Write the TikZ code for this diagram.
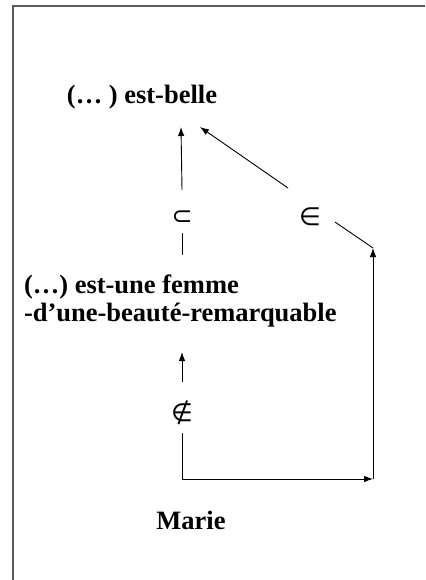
\documentclass[tikz,border=0pt]{standalone}
\usepackage{fontspec}
\setmainfont{Liberation Serif}
\newfontfamily\symfont{DejaVu Sans}
\usetikzlibrary{arrows.meta,calc}

\definecolor{fgray}{RGB}{90, 90, 90}

\tikzset{
	lbl/.style={font=\fontsize{26.5}{28}\selectfont\bfseries, inner sep=0pt, outer sep=0pt},
	rel/.style={font=\fontsize{25}{28}\selectfont\symfont, inner sep=0pt, outer sep=0pt},
	arr/.style={-{Latex[length=9pt,width=6.5pt]}, line width=0.9pt},
	ln/.style={line width=0.9pt}
}

\begin{document}
\begin{tikzpicture}[x=1pt, y=-1pt]
			\useasboundingbox (0,0) rectangle (425,580);

			% --- frame ---
			\draw[fgray, line width=1.3pt] (13,580) -- (13,6) -- (425,6);

			% --- labels ---
			\node[lbl] (belle) at (142,97) {(\ldots\ ) est-belle};
			\node[lbl, anchor=west, align=left] (femme) at (24,301) {(\ldots) est-une femme\\-d’une-beauté-remarquable};
			\node[lbl] (marie) at (191,520) {Marie};

			% --- relations ---
			\node[rel] (subset) at (182,218) {⊂};
			\node[rel] (in) at (310,217) {∈};
			\node[rel] (notin) at (182,413) {∉};

			\coordinate (rc) at (373,479);
			\coordinate (rt) at (373,248);

			% upper part
			\draw[arr] ($(subset)+(0,-28)$) -- ($(belle)+(39,30)$);
			\draw[ln] ($(subset)+(0,15)$) -- ($(subset)+(0,37)$);
			\draw[arr] ($(in)+(-22,-29)$) -- ($(belle)+(58,30)$);
			\draw[ln] ($(in)+(25,5)$) -- (rt);

			% lower part
			\draw[arr] ($(notin)+(0,-31)$) -- ($(notin)+(0,-61)$);
			\draw[arr] ($(notin)+(0,20)$) |- (rc);
			\draw[arr] (rc) -- (rt);

		\end{tikzpicture}
\end{document}
